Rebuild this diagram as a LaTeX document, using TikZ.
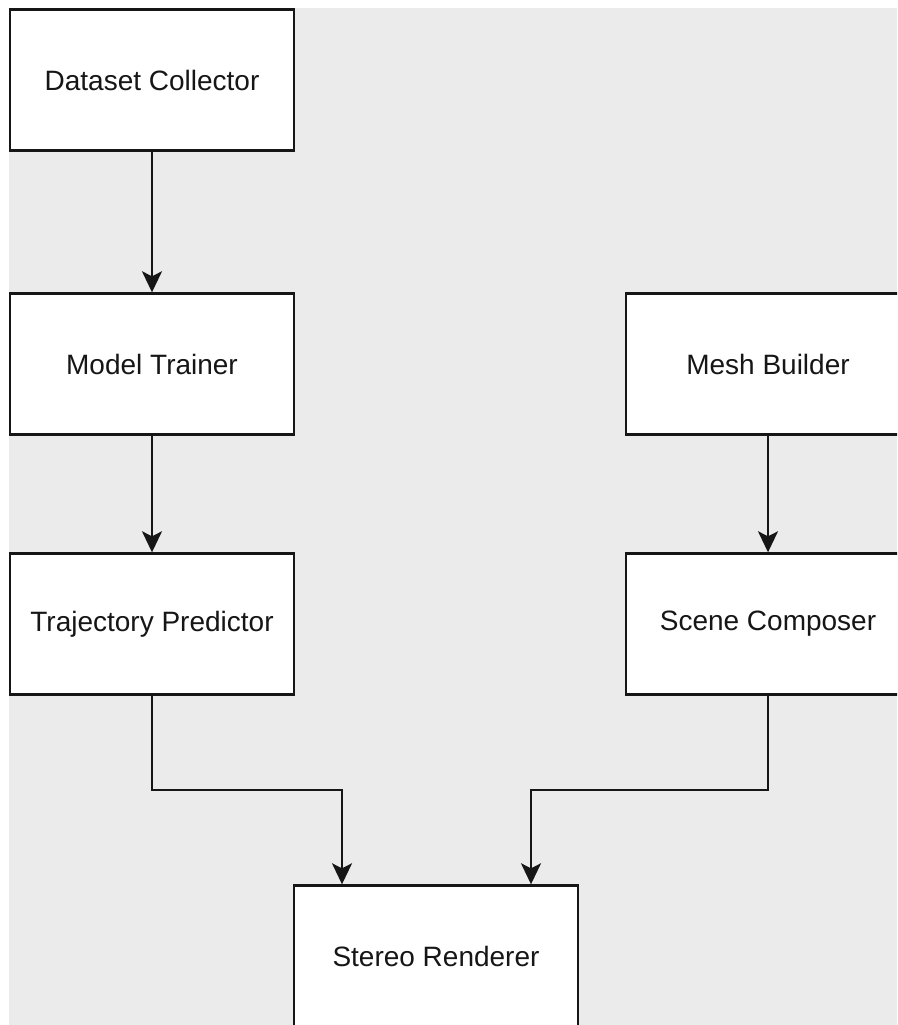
\documentclass[tikz,border=0pt]{standalone}
\usepackage{fontspec}
\setmainfont{Liberation Sans}
\usetikzlibrary{arrows.meta}
\definecolor{bggray}{HTML}{EBEBEB}
\definecolor{ink}{HTML}{161616}
\tikzset{
  box/.style={draw=ink, fill=white, line width=2.4pt, minimum width=284pt, minimum height=141pt,
    inner sep=0pt, font=\fontsize{28}{34}\selectfont, text=ink},
  arr/.style={draw=ink, line width=2pt, -{Stealth[length=21pt,width=20pt,inset=5pt]}}
}
\begin{document}
\begin{tikzpicture}[x=1pt,y=-1pt]
\useasboundingbox (0,0) rectangle (897,1025);
\clip (0,0) rectangle (897,1025);
\fill[white] (0,0) rectangle (897,1025);
\fill[bggray] (9,8) rectangle (897,1025);
\node[box] (dc) at (152,80) {Dataset Collector};
\node[box] (mt) at (152,364) {Model Trainer};
\node[box] (tp) at (152,624) {Trajectory Predictor};
\node[box] (mb) at (768,364) {Mesh Builder};
\node[box] (sc) at (768,624) {Scene Composer};
\node[box] (sr) at (436,956) {Stereo Renderer};
\coordinate (jl) at (342,790);
\coordinate (jr) at (531,790);
\draw[arr] (dc.south) -- (mt.north);
\draw[arr] (mt.south) -- (tp.north);
\draw[arr] (mb.south) -- (sc.north);
\draw[arr] (tp.south) |- (jl) -- (jl |- sr.north);
\draw[arr] (sc.south) |- (jr) -- (jr |- sr.north);
\end{tikzpicture}
\end{document}
